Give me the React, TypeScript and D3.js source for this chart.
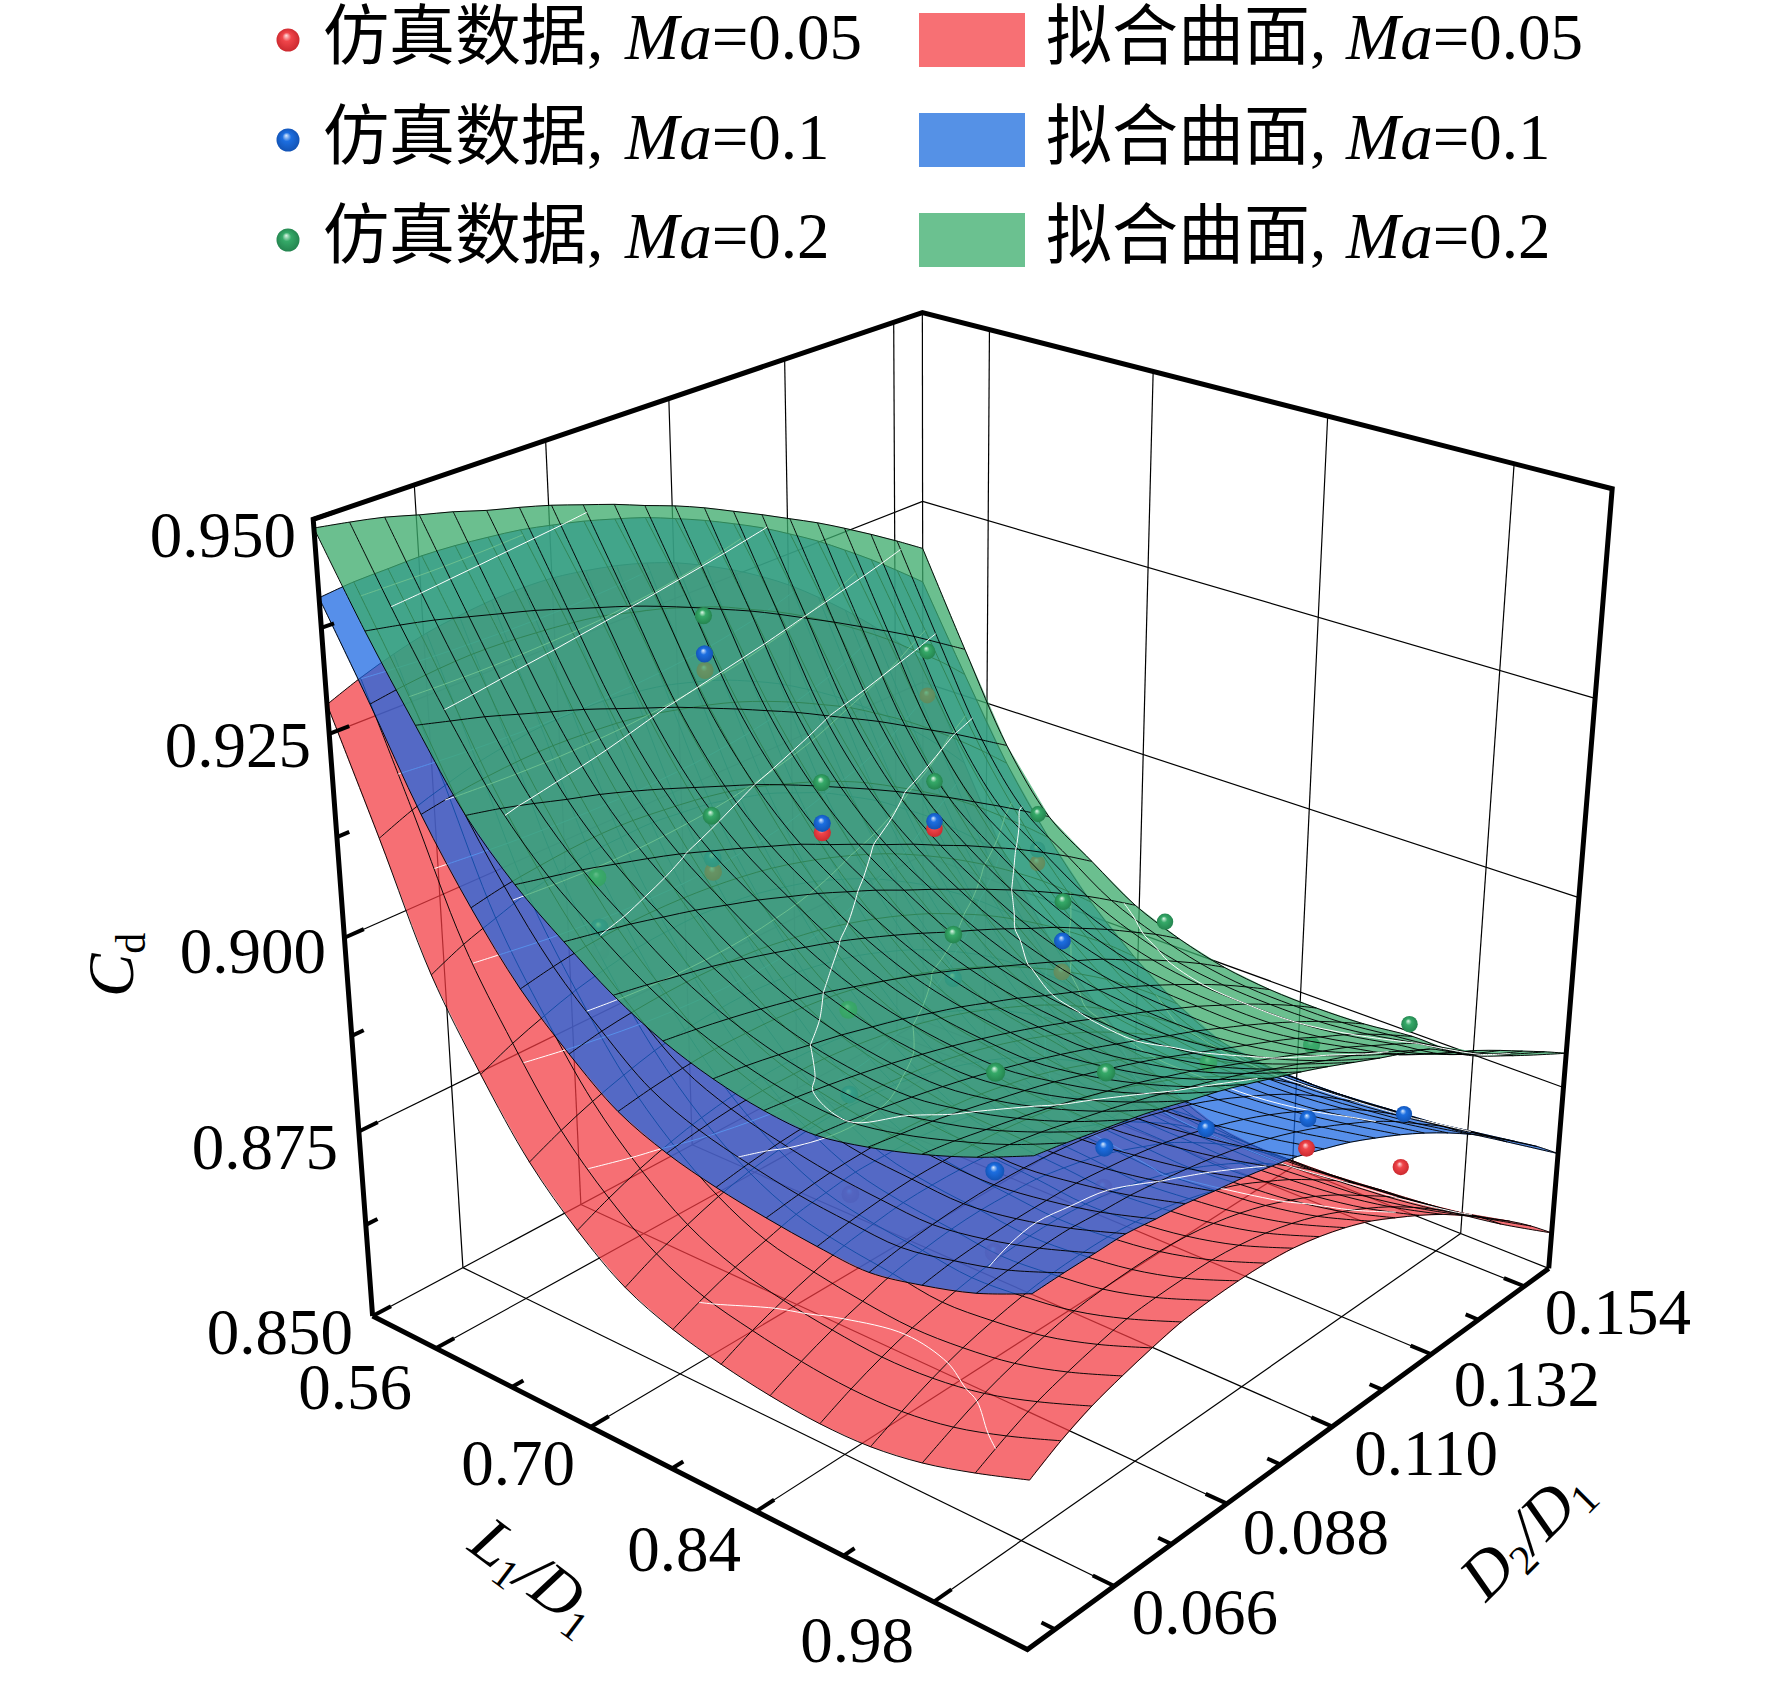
import * as d3 from 'd3';

const L_RANGE = [0.5, 1.05];
const D_RANGE = [0.05, 0.16];
const CD_RANGE = [0.85, 0.95];

const lTicks = [0.56, 0.7, 0.84, 0.98];
const lMinorTicks = [0.63, 0.77, 0.91];
const dTicks = [0.066, 0.088, 0.11, 0.132, 0.154];
const dMinorTicks = [0.055, 0.077, 0.099, 0.121, 0.143];
const cdTicks = [0.85, 0.875, 0.9, 0.925, 0.95];
const cdMinorTicks = [0.8625, 0.8875, 0.9125, 0.9375];
const cdGrid = [0.875, 0.9, 0.925];
const contourLevels = [0.86, 0.87, 0.88, 0.89, 0.9, 0.91, 0.92, 0.93, 0.94];

// Cd x 10000. rows: L1/D1 low to high, columns: D2/D1 low to high
const cdRed = [
  [9285,9301,9314,9324,9330,9334,9335,9333,9327,9319,9308,9294,9276,9256,9233,9207,9177,9145,9110,9072,9030],
  [9145,9162,9175,9186,9193,9198,9199,9198,9193,9186,9175,9162,9145,9126,9103,9078,9049,9018,8983,8946,8905],
  [9000,9019,9033,9046,9054,9061,9063,9064,9060,9055,9045,9034,9018,9001,8979,8956,8928,8899,8865,8830,8790],
  [8900,8919,8934,8947,8956,8963,8966,8967,8964,8959,8950,8939,8924,8907,8886,8863,8836,8807,8774,8739,8700],
  [8815,8834,8850,8863,8874,8881,8885,8887,8885,8881,8873,8863,8849,8833,8813,8791,8766,8737,8706,8672,8635],
  [8755,8774,8790,8803,8813,8820,8825,8826,8824,8820,8813,8803,8789,8773,8755,8733,8708,8680,8650,8617,8580],
  [8710,8730,8745,8759,8769,8776,8781,8783,8781,8778,8770,8760,8747,8732,8713,8691,8667,8640,8609,8576,8540],
  [8685,8703,8718,8730,8741,8747,8752,8752,8751,8747,8740,8730,8717,8701,8684,8662,8639,8611,8582,8550,8515],
  [8670,8689,8704,8717,8728,8734,8739,8740,8739,8736,8729,8720,8707,8692,8675,8653,8630,8603,8574,8543,8508],
  [8660,8679,8695,8708,8720,8727,8732,8734,8733,8731,8724,8715,8703,8688,8672,8651,8628,8602,8573,8543,8508],
  [8655,8674,8690,8703,8712,8720,8725,8728,8728,8725,8719,8710,8699,8685,8668,8649,8627,8602,8575,8545,8512],
  [8657,8676,8693,8707,8717,8725,8730,8732,8732,8729,8724,8715,8704,8690,8672,8653,8631,8608,8581,8551,8518],
  [8668,8687,8704,8717,8727,8735,8739,8741,8741,8738,8732,8723,8711,8696,8679,8659,8636,8613,8587,8557,8525],
  [8687,8707,8724,8736,8746,8754,8757,8758,8758,8754,8747,8737,8724,8708,8690,8670,8647,8622,8596,8567,8535],
  [8710,8732,8749,8761,8771,8779,8782,8783,8782,8778,8770,8759,8745,8727,8708,8687,8663,8637,8611,8582,8550],
];
const cdBlue = [
  [9410,9414,9415,9416,9414,9410,9405,9397,9388,9377,9365,9350,9334,9316,9297,9275,9252,9226,9199,9170,9140],
  [9305,9311,9315,9317,9316,9313,9309,9303,9293,9283,9270,9256,9238,9220,9199,9176,9151,9124,9094,9064,9030],
  [9195,9202,9207,9210,9211,9209,9206,9200,9191,9181,9169,9154,9137,9118,9098,9074,9049,9021,8991,8959,8925],
  [9105,9113,9118,9122,9124,9123,9119,9114,9107,9097,9084,9070,9054,9035,9013,8990,8965,8937,8906,8874,8840],
  [9030,9038,9044,9047,9048,9047,9044,9039,9032,9022,9010,8996,8980,8961,8940,8917,8892,8865,8836,8804,8770],
  [8975,8983,8988,8991,8992,8991,8988,8982,8975,8965,8953,8939,8923,8904,8884,8861,8836,8809,8780,8749,8715],
  [8930,8937,8942,8945,8945,8944,8940,8935,8927,8917,8905,8891,8875,8857,8836,8814,8789,8763,8734,8703,8670],
  [8905,8912,8917,8919,8919,8918,8914,8908,8900,8890,8878,8863,8847,8829,8808,8785,8760,8734,8705,8673,8640],
  [8890,8897,8902,8905,8905,8904,8900,8895,8887,8877,8865,8851,8835,8817,8796,8774,8749,8723,8694,8663,8630],
  [8880,8886,8891,8893,8894,8892,8888,8883,8875,8866,8854,8840,8825,8807,8788,8766,8742,8717,8689,8660,8628],
  [8873,8880,8885,8888,8888,8887,8884,8879,8872,8863,8852,8838,8823,8806,8787,8766,8743,8717,8690,8661,8630],
  [8870,8877,8882,8885,8886,8885,8882,8877,8870,8861,8850,8838,8823,8806,8788,8768,8745,8720,8694,8666,8635],
  [8883,8889,8892,8894,8894,8893,8889,8884,8877,8868,8857,8844,8829,8812,8793,8774,8751,8726,8699,8671,8640],
  [8902,8906,8909,8910,8907,8905,8900,8894,8887,8878,8867,8854,8839,8822,8804,8783,8759,8735,8709,8680,8650],
  [8930,8931,8931,8931,8926,8922,8915,8909,8901,8892,8880,8867,8851,8834,8815,8794,8771,8746,8719,8691,8660],
];
const cdGreen = [
  [9490,9483,9475,9464,9454,9442,9432,9421,9408,9395,9380,9366,9350,9332,9314,9295,9276,9255,9233,9210,9186],
  [9390,9382,9373,9362,9351,9340,9327,9314,9301,9286,9270,9253,9236,9217,9197,9177,9156,9135,9113,9089,9065],
  [9300,9289,9278,9265,9252,9239,9224,9209,9194,9177,9160,9142,9124,9104,9084,9064,9042,9020,8998,8974,8950],
  [9215,9206,9195,9183,9172,9159,9145,9130,9115,9100,9083,9065,9046,9027,9007,8986,8965,8942,8919,8895,8870],
  [9155,9146,9137,9126,9115,9103,9089,9075,9060,9045,9027,9010,8992,8975,8956,8938,8918,8898,8876,8853,8828],
  [9110,9102,9094,9084,9074,9062,9050,9036,9022,9006,8990,8972,8955,8937,8919,8900,8880,8859,8837,8813,8788],
  [9070,9063,9055,9047,9037,9026,9014,9002,8988,8973,8957,8940,8924,8907,8889,8872,8852,8832,8810,8788,8763],
  [9040,9034,9027,9019,9010,9000,8988,8976,8963,8949,8934,8918,8902,8886,8869,8852,8832,8813,8792,8770,8746],
  [9020,9015,9008,9000,8992,8982,8972,8960,8948,8934,8920,8904,8889,8873,8857,8840,8822,8803,8783,8761,8738],
  [9008,9003,8997,8990,8982,8973,8963,8952,8940,8927,8913,8898,8883,8868,8852,8836,8818,8800,8780,8759,8736],
  [9005,9000,8994,8987,8979,8970,8960,8949,8937,8924,8910,8896,8881,8867,8851,8835,8818,8800,8781,8760,8738],
  [9017,9011,9005,8997,8988,8979,8969,8957,8945,8932,8918,8903,8888,8873,8858,8842,8824,8807,8788,8767,8745],
  [9035,9029,9021,9013,9004,8994,8983,8972,8959,8946,8931,8916,8901,8886,8870,8855,8837,8819,8800,8775,8745],
  [9058,9051,9044,9035,9026,9016,9005,8993,8981,8968,8953,8939,8923,8909,8893,8870,8851,8830,8810,8790,8768],
  [9086,9079,9071,9063,9054,9043,9033,9021,9008,8995,8981,8966,8951,8937,8922,8898,8880,8860,8839,8818,8796],
];

// simulation points: L1/D1, D2/D1 and Cd of each Ma (null where it cannot be seen)
const pointL = [0.56,0.56,0.654,0.654,0.654,0.654,0.654,0.775,0.775,0.775,0.775,0.929,0.929,0.929,0.929,0.929];
const pointD = [0.1029,0.147,0.064,0.084,0.1043,0.1265,0.1485,0.082,0.1018,0.1238,0.146,0.0729,0.0937,0.1145,0.137,0.16];
const pointCdGreen = [0.9275,0.9108,0.9116,0.9128,0.9107,0.9041,0.8929,0.8963,0.8989,0.8958,0.8857,0.9016,0.8939,0.8874,0.8815,0.876];
const pointCdBlue = [0.9227,null,0.9055,0.9075,0.9055,0.8988,0.888,0.8856,0.8933,0.8906,null,0.8897,0.8845,0.8789,0.8716,0.8635];
const pointCdRed = [0.9206,0.9048,0.9026,0.9058,0.9043,0.8978,0.8861,0.8727,null,0.8865,null,0.8797,0.8794,null,0.8676,0.856];
// how many surfaces were painted before the point: 3 means it sits on top of them all
const stackGreen = [3,3,2,3,3,3,3,2,3,3,3,3,3,2,2,3];
const stackBlue = [3,0,2,2,3,3,2,2,2,3,0,3,3,3,3,3];
const stackRed = [2,2,1,2,3,3,2,1,0,2,0,1,1,0,3,3];

const legendRows = ['0.05', '0.1', '0.2'];
const legendSurfaceColors = ['#F77074', '#5591E6', '#6BC190'];

const xScale = d3.scaleLinear().domain(L_RANGE).range([0, 1]);
const yScale = d3.scaleLinear().domain(D_RANGE).range([0, 1]);
const zScale = d3.scaleLinear().domain(CD_RANGE).range([0, 1]);

// where box positions land on the canvas: [x frac, y frac, z frac, px, py]
const cameraAnchors: number[][] = [
  [0,0,0,372,1316],[1,0,0,1027,1652],[1,1,0,1550,1269],[0,0,1,313,520],[1,1,1,1612,486],[0,1,1,922,311],
  [0,.145,0,462,1271],[0,1,.75,922,501],[.109,0,0,439,1350],[.364,0,0,593,1428],[.618,0,0,757,1512],[.873,0,0,934,1601],
  [1,.145,0,1113,1586],[1,.345,0,1225,1504],[1,.545,0,1331,1427],[1,.745,0,1431,1353],[1,.945,0,1523,1285],
  [.109,1,1,989,331],[.364,1,1,1155,373],[.618,1,1,1328,417],[.873,1,1,1516,465],
  [0,.145,1,414,488],[0,.345,1,546,440],[0,.545,1,668,401],[0,.745,1,784,360],[0,.945,1,893,321],
  [0,0,.75,328,730],[0,0,.5,344,935],[0,0,.25,358,1127],
];

function fitCamera() {
  const n = 11;
  const m = d3.range(n).map(() => new Array(n + 1).fill(0));
  const add = (r: number[], v: number) => {
    for (let i = 0; i < n; i++) {
      for (let j = 0; j < n; j++) m[i][j] += r[i] * r[j];
      m[i][n] += r[i] * v;
    }
  };
  cameraAnchors.forEach(([a, b, c, x, y]) => {
    const X = x / 1000;
    const Y = y / 1000;
    add([a, b, c, 1, 0, 0, 0, 0, -X * a, -X * b, -X * c], X);
    add([0, 0, 0, 0, a, b, c, 1, -Y * a, -Y * b, -Y * c], Y);
  });
  for (let i = 0; i < n; i++) {
    let p = i;
    for (let k = i + 1; k < n; k++) if (Math.abs(m[k][i]) > Math.abs(m[p][i])) p = k;
    [m[i], m[p]] = [m[p], m[i]];
    for (let k = 0; k < n; k++) {
      if (k === i) continue;
      const f = m[k][i] / m[i][i];
      for (let j = i; j <= n; j++) m[k][j] -= f * m[i][j];
    }
  }
  return m.map((r, i) => r[n] / r[i]);
}
const cam = fitCamera();

const depthOf = (a: number, b: number, c: number) => cam[8] * a + cam[9] * b + cam[10] * c + 1;
const toScreen = (a: number, b: number, c: number): [number, number] => {
  const w = depthOf(a, b, c);
  return [
    ((cam[0] * a + cam[1] * b + cam[2] * c + cam[3]) / w) * 1000,
    ((cam[4] * a + cam[5] * b + cam[6] * c + cam[7]) / w) * 1000,
  ];
};
const project = (l: number, d: number, cd: number) => toScreen(xScale(l), yScale(d), zScale(cd));

const straight = d3.line();
const smooth = d3.line().curve(d3.curveCatmullRom);

interface Layer {
  table: number[][];
  fill: string;
  alpha: number;
}
const layers: Layer[] = [
  { table: cdRed, fill: '#F43B42', alpha: 0.73 },
  { table: cdBlue, fill: '#1967E3', alpha: 0.73 },
  { table: cdGreen, fill: '#3DAC6D', alpha: 0.76 },
];

function surfaceParts({ table }: Layer) {
  const rows = table.length;
  const cols = table[0].length;
  const node = (r: number, c: number) =>
    toScreen(r / (rows - 1), c / (cols - 1), zScale(table[r][c] / 10000));
  const quads: { d: string; depth: number }[] = [];
  for (let r = 0; r < rows - 1; r++) {
    for (let c = 0; c < cols - 1; c++) {
      quads.push({
        d: straight([node(r, c), node(r + 1, c), node(r + 1, c + 1), node(r, c + 1)])! + 'Z',
        depth: depthOf((r + 0.5) / (rows - 1), (c + 0.5) / (cols - 1), zScale(table[r][c] / 10000)),
      });
    }
  }
  quads.sort((a, b) => b.depth - a.depth);
  const mesh = [
    ...d3.range(rows).map((r) => smooth(d3.range(cols).map((c) => node(r, c)))!),
    ...d3.range(cols).map((c) => smooth(d3.range(rows).map((r) => node(r, c)))!),
  ];
  // contour lines on the surface, without the parts d3 closes along the table's edge
  const flat = table.flat();
  const iso: string[] = [];
  contourLevels.forEach((level) => {
    const shape = d3.contours().size([cols, rows]).smooth(true).contour(flat, level * 10000);
    shape.coordinates.forEach((poly) =>
      poly.forEach((ring) => {
        let run: [number, number][] = [];
        const flush = () => {
          if (run.length > 1) iso.push(smooth(run)!);
          run = [];
        };
        ring.forEach(([x, y]) => {
          const inside = x > 0.5 && x < cols - 0.5 && y > 0.5 && y < rows - 0.5;
          if (!inside) return flush();
          run.push(toScreen((y - 0.5) / (rows - 1), (x - 0.5) / (cols - 1), zScale(level)));
        });
        flush();
      })
    );
  });
  return { quads, mesh, iso };
}

const seriesPoints = (cds: (number | null)[], stack: number[], color: string) =>
  cds.flatMap((cd, i) => {
    if (cd === null) return [];
    const a = xScale(pointL[i]);
    const b = yScale(pointD[i]);
    const c = zScale(cd);
    const [cx, cy] = toScreen(a, b, c);
    return [{ cx, cy, r: 8.8 * (depthOf(0.5, 0.5, 0.5) / depthOf(a, b, c)), color, stack: stack[i] }];
  });
const spheres = [
  ...seriesPoints(pointCdRed, stackRed, 'red'),
  ...seriesPoints(pointCdBlue, stackBlue, 'blue'),
  ...seriesPoints(pointCdGreen, stackGreen, 'green'),
];

const sphereStops: Record<string, string[]> = {
  red: ['#ffe2e2', '#f0454a', '#c8262c'],
  blue: ['#dcecff', '#1c6ee0', '#1150b0'],
  green: ['#dff7e8', '#35a968', '#22804c'],
};

const FONT = '"Liberation Serif", "Noto Sans CJK SC", serif';
const frameStyle = { stroke: '#000', strokeWidth: 5, fill: 'none', strokeLinejoin: 'miter' as const };
const gridStyle = { stroke: '#000', strokeWidth: 1.2, fill: 'none' };
const tickStyle = { stroke: '#000', strokeWidth: 4, fill: 'none' };

function Path3D({ from, to, style }: { from: number[]; to: number[]; style: object }) {
  return <path d={straight([project(from[0], from[1], from[2]), project(to[0], to[1], to[2])])!} {...style} />;
}

export default function App() {
  const [lMin, lMax] = L_RANGE;
  const [dMin, dMax] = D_RANGE;
  const [zMin, zMax] = CD_RANGE;
  const parts = layers.map(surfaceParts);
  const sphereGroup = (stack: number) =>
    spheres
      .filter((s) => s.stack === stack)
      .map((s, i) => (
        <circle
          key={i}
          cx={s.cx}
          cy={s.cy}
          r={s.r}
          fill={`url(#ball-${s.color})`}
          opacity={s.color === 'red' && stack < 2 ? 0.4 : 1}
        />
      ));

  return (
    <svg
      width={1772}
      height={1682}
      viewBox="0 0 1772 1682"
      style={{ position: 'absolute', left: 0, top: 0, background: '#fff' }}
      fontFamily={FONT}
      fontSize={65}
    >
      <defs>
        {Object.entries(sphereStops).map(([name, [hi, mid, lo]]) => (
          <radialGradient key={name} id={`ball-${name}`} cx="0.5" cy="0.5" r="0.55" fx="0.42" fy="0.3">
            <stop offset="0" stopColor={hi} />
            <stop offset="0.35" stopColor={mid} />
            <stop offset="1" stopColor={lo} />
          </radialGradient>
        ))}
      </defs>

      {/* back walls and floor */}
      <g>
        {dTicks.map((d) => (
          <g key={d}>
            <Path3D from={[lMin, d, zMin]} to={[lMin, d, zMax]} style={gridStyle} />
            <Path3D from={[lMin, d, zMin]} to={[lMax, d, zMin]} style={gridStyle} />
          </g>
        ))}
        {lTicks.map((l) => (
          <g key={l}>
            <Path3D from={[l, dMax, zMin]} to={[l, dMax, zMax]} style={gridStyle} />
            <Path3D from={[l, dMin, zMin]} to={[l, dMax, zMin]} style={gridStyle} />
          </g>
        ))}
        {cdGrid.map((z) => (
          <g key={z}>
            <Path3D from={[lMin, dMin, z]} to={[lMin, dMax, z]} style={gridStyle} />
            <Path3D from={[lMin, dMax, z]} to={[lMax, dMax, z]} style={gridStyle} />
          </g>
        ))}
        <Path3D from={[lMin, dMax, zMin]} to={[lMin, dMax, zMax]} style={gridStyle} />
        <Path3D from={[lMin, dMin, zMin]} to={[lMin, dMax, zMin]} style={gridStyle} />
        <Path3D from={[lMin, dMax, zMin]} to={[lMax, dMax, zMin]} style={gridStyle} />
      </g>

      {/* surfaces, each with the points that lie under the next one */}
      {layers.map((layer, i) => (
        <g key={layer.fill}>
          <g opacity={layer.alpha}>
            {parts[i].quads.map((q, k) => (
              <path key={k} d={q.d} fill={layer.fill} stroke={layer.fill} strokeWidth={0.7} />
            ))}
          </g>
          <g fill="none" stroke="#000" strokeWidth={0.95}>
            {parts[i].mesh.map((d, k) => (
              <path key={k} d={d} />
            ))}
          </g>
          <g fill="none" stroke="#fff" strokeWidth={1}>
            {parts[i].iso.map((d, k) => (
              <path key={k} d={d} />
            ))}
          </g>
          {sphereGroup(i + 1)}
        </g>
      ))}

      {/* frame */}
      <path
        d={straight([project(lMin, dMin, zMin), project(lMin, dMin, zMax), project(lMin, dMax, zMax), project(lMax, dMax, zMax), project(lMax, dMax, zMin)])!}
        {...frameStyle}
      />
      <path d={straight([project(lMin, dMin, zMin), project(lMax, dMin, zMin), project(lMax, dMax, zMin)])!} {...frameStyle} />

      {/* ticks */}
      {lTicks.map((l) => <Path3D key={l} from={[l, dMin, zMin]} to={[l, dMin + 0.0032, zMin]} style={tickStyle} />)}
      {lMinorTicks.map((l) => <Path3D key={l} from={[l, dMin, zMin]} to={[l, dMin + 0.002, zMin]} style={tickStyle} />)}
      {dTicks.map((d) => <Path3D key={d} from={[lMax, d, zMin]} to={[lMax - 0.016, d, zMin]} style={tickStyle} />)}
      {dMinorTicks.map((d) => <Path3D key={d} from={[lMax, d, zMin]} to={[lMax - 0.01, d, zMin]} style={tickStyle} />)}
      {cdTicks.map((z) => <Path3D key={z} from={[lMin, dMin, z]} to={[lMin, dMin + 0.0032, z]} style={tickStyle} />)}
      {cdMinorTicks.map((z) => <Path3D key={z} from={[lMin, dMin, z]} to={[lMin, dMin + 0.002, z]} style={tickStyle} />)}

      {/* tick labels */}
      {cdTicks.map((z, i) => (
        <text key={z} x={[353, 338, 326, 311, 296][i]} y={[1354, 1169, 973, 767, 557][i]} textAnchor="end">{z.toFixed(3)}</text>
      ))}
      {lTicks.map((l, i) => (
        <text key={l} x={[412, 575, 741, 914][i]} y={[1409, 1485, 1571, 1662][i]} textAnchor="end">{l.toFixed(2)}</text>
      ))}
      {dTicks.map((d, i) => (
        <text key={d} x={[1278, 1389, 1498, 1600, 1691][i]} y={[1634, 1554, 1475, 1406, 1334][i]} textAnchor="end">{d.toFixed(3)}</text>
      ))}

      {/* axis titles */}
      <text transform="translate(133,997) rotate(-90)">
        <tspan fontStyle="italic">C</tspan>
        <tspan fontSize={42} dy={12}>d</tspan>
      </text>
      <text transform="translate(466,1549) rotate(37)">
        <tspan fontStyle="italic">L</tspan>
        <tspan fontSize={42} dy={10}>1</tspan>
        <tspan dy={-10} fontStyle="italic">/D</tspan>
        <tspan fontSize={42} dy={10}>1</tspan>
      </text>
      <text transform="translate(1486,1603) rotate(-45)">
        <tspan fontStyle="italic">D</tspan>
        <tspan fontSize={42} dy={10}>2</tspan>
        <tspan dy={-10} fontStyle="italic">/D</tspan>
        <tspan fontSize={42} dy={10}>1</tspan>
      </text>

      {/* legend */}
      {legendRows.map((ma, i) => (
        <g key={ma}>
          <circle cx={288} cy={40 + i * 100} r={11.5} fill={`url(#ball-${['red', 'blue', 'green'][i]})`} />
          <text x={323} y={59 + i * 99.5}>
            <tspan fontSize={66}>仿真数据</tspan>, <tspan x={625} fontStyle="italic">Ma</tspan>={ma}
          </text>
          <rect x={919} y={13 + i * 100} width={106} height={54} fill={legendSurfaceColors[i]} />
          <text x={1046} y={59 + i * 99.5}>
            <tspan fontSize={66}>拟合曲面</tspan>, <tspan x={1346} fontStyle="italic">Ma</tspan>={ma}
          </text>
        </g>
      ))}
    </svg>
  );
}
